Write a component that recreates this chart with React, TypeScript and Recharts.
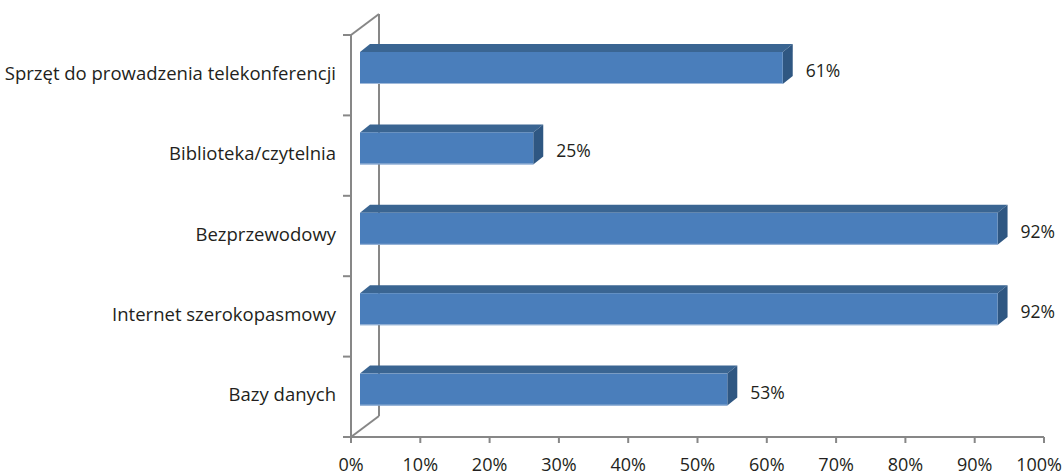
import { BarChart, Bar, XAxis, YAxis, LabelList, usePlotArea } from 'recharts';

const categories = [
  'Sprzęt do prowadzenia telekonferencji',
  'Biblioteka/czytelnia',
  'Bezprzewodowy',
  'Internet szerokopasmowy',
  'Bazy danych',
];
const shares = [0.61, 0.25, 0.92, 0.92, 0.53];
const xTicks = [0, 0.1, 0.2, 0.3, 0.4, 0.5, 0.6, 0.7, 0.8, 0.9, 1];

const data = categories.map((name, i) => ({ name, value: shares[i] }));

const AXIS = '#878787';
const TEXT = '#231f20';
const FONT = '"Open Sans", sans-serif';
const CHART_W = 1063;

// 3D offsets: wall depth and bar depth
const WALL_DX = 28;
const WALL_DY = 21;
const BAR_SHIFT_X = 9;
const BAR_SHIFT_Y = 7;
const BAR_DX = 10;
const BAR_DY = 8;

const pct = (v: number) => `${Math.round(v * 100)}%`;

function Wall() {
  const area = usePlotArea();
  if (!area) return null;
  const { x, y, width, height } = area;
  const n = categories.length;
  const bx = x + WALL_DX;
  return (
    <g stroke={AXIS} strokeWidth={2} fill="none">
      <line x1={x} y1={y} x2={bx} y2={y - WALL_DY} />
      <line x1={bx} y1={y - WALL_DY} x2={bx} y2={y + height - WALL_DY} />
      <line x1={x} y1={y + height} x2={bx} y2={y + height - WALL_DY} />
      {Array.from({ length: n + 1 }, (_, i) => (
        <line key={i} x1={x - 8} x2={x} y1={y + (i * height) / n} y2={y + (i * height) / n} />
      ))}
      <line x1={x} y1={y} x2={x} y2={y + height} />
      <line x1={x - 8} y1={y + height} x2={x + width} y2={y + height} />
    </g>
  );
}

function Bar3D(props: any) {
  const { x, y, width, height } = props;
  const fx = x + BAR_SHIFT_X;
  const fy = y - BAR_SHIFT_Y;
  const top = `${fx},${fy} ${fx + BAR_DX},${fy - BAR_DY} ${fx + width + BAR_DX},${fy - BAR_DY} ${fx + width},${fy}`;
  const side = `${fx + width},${fy} ${fx + width + BAR_DX},${fy - BAR_DY} ${fx + width + BAR_DX},${fy + height - BAR_DY} ${fx + width},${fy + height}`;
  return (
    <g>
      <polygon points={top} fill="#3a6592" />
      <polygon points={side} fill="#2f5782" />
      <rect x={fx} y={fy} width={width} height={height} fill="#4a7ebb" />
      <line x1={fx} x2={fx + width} y1={fy + height - 0.5} y2={fy + height - 0.5} stroke="#9fb9da" strokeWidth={1} />
    </g>
  );
}

function ValueLabel(props: any) {
  const { x, y, width, height, value } = props;
  return (
    <text
      x={x + width + BAR_SHIFT_X + BAR_DX + 13}
      y={y - BAR_SHIFT_Y + height / 2 + 2}
      dominantBaseline="central"
      fontFamily={FONT}
      fontSize={17.5}
      fill={TEXT}
    >
      {pct(value)}
    </text>
  );
}

function CategoryTick(props: any) {
  const { x, y, payload } = props;
  return (
    <text x={x} y={y - 3} textAnchor="end" dominantBaseline="central" fontFamily={FONT} fontSize={18.5} fill={TEXT}>
      {payload.value}
    </text>
  );
}

// last label is kept inside the chart's right edge
function PercentTick(props: any) {
  const { x, y, payload } = props;
  const last = payload.value === xTicks[xTicks.length - 1];
  return (
    <text
      x={last ? CHART_W - 1 : x}
      y={y + 9}
      textAnchor={last ? 'end' : 'middle'}
      dominantBaseline="central"
      fontFamily={FONT}
      fontSize={18}
      fill={TEXT}
    >
      {pct(payload.value)}
    </text>
  );
}

export default function App() {
  return (
    <div style={{ position: 'absolute', left: 0, top: 0, width: CHART_W, height: 475, background: '#fff' }}>
      <BarChart
        width={CHART_W}
        height={475}
        data={data}
        layout="vertical"
        margin={{ top: 35, right: 19, bottom: 0, left: 0 }}
        barCategoryGap={0}
      >
        <Wall />
        <XAxis
          type="number"
          domain={[0, 1]}
          ticks={xTicks}
          height={38}
          axisLine={false}
          tickLine={{ stroke: AXIS, strokeWidth: 2 }}
          tickSize={6}
          tickMargin={12}
          tick={<PercentTick />}
          interval={0}
        />
        <YAxis
          type="category"
          dataKey="name"
          width={351}
          axisLine={false}
          tickLine={false}
          tickSize={0}
          tickMargin={15}
          tick={<CategoryTick />}
          interval={0}
        />
        <Bar dataKey="value" barSize={32} shape={<Bar3D />} isAnimationActive={false}>
          <LabelList dataKey="value" content={<ValueLabel />} />
        </Bar>
      </BarChart>
    </div>
  );
}
